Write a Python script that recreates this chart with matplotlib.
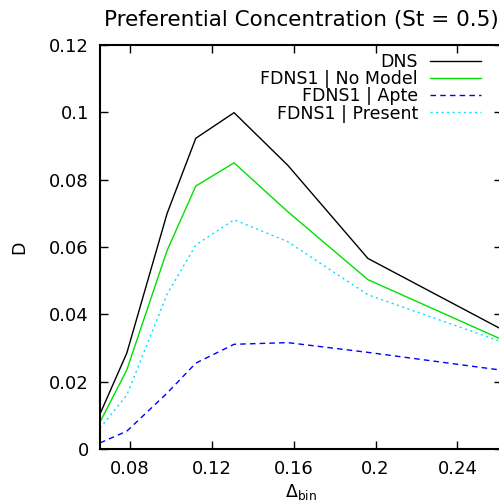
import matplotlib
matplotlib.use("Agg")
import matplotlib.pyplot as plt
from matplotlib.ticker import FormatStrFormatter

# bin size (2*pi/N for N = 96, 80, 64, 56, 48, 40, 32, 24)
delta_bin = [0.0654, 0.0785, 0.0982, 0.1122, 0.1309, 0.1571, 0.1963, 0.2618]

d_dns = [0.0104, 0.0285, 0.0700, 0.0923, 0.0999, 0.0843, 0.0566, 0.0355]
d_nomodel = [0.0080, 0.0235, 0.0590, 0.0781, 0.0850, 0.0705, 0.0503, 0.0325]
d_apte = [0.0018, 0.0053, 0.0166, 0.0255, 0.0311, 0.0316, 0.0287, 0.0234]
d_present = [0.0062, 0.0160, 0.0460, 0.0606, 0.0681, 0.0616, 0.0458, 0.0318]

xticks = [0.08, 0.12, 0.16, 0.2, 0.24]
yticks = [0, 0.02, 0.04, 0.06, 0.08, 0.1, 0.12]

fig = plt.figure(figsize=(4.99, 5.04), dpi=100)
ax = fig.add_axes([100 / 499, 55 / 504, 402 / 499, 404 / 504])

ax.plot(delta_bin, d_dns, color='black', lw=1.0, label='DNS')
ax.plot(delta_bin, d_nomodel, color='#00e000', lw=1.0, label='FDNS1 | No Model')
ax.plot(delta_bin, d_apte, color='#0000ff', lw=1.0, ls=(0, (4, 3)), label='FDNS1 | Apte')
ax.plot(delta_bin, d_present, color='#00e0ff', lw=1.0, ls=(0, (1.5, 2.5)), label='FDNS1 | Present')

ax.set_xlim(delta_bin[0], delta_bin[-1])
ax.set_ylim(0, 0.12)
ax.set_xticks(xticks)
ax.set_yticks(yticks)
ax.xaxis.set_major_formatter(FormatStrFormatter('%g'))
ax.yaxis.set_major_formatter(FormatStrFormatter('%g'))
ax.tick_params(direction='in', length=6, width=1, top=True, right=True,
               labelsize=13, pad=8)
for s in ax.spines.values():
    s.set_linewidth(1.5)

ax.set_title('Preferential Concentration (St = 0.5)', fontsize=15.5, pad=14)
ax.set_ylabel('D', fontsize=12.5, labelpad=15)
ax.set_xlabel(r'$\Delta_{\mathrm{bin}}$', fontsize=12.5, labelpad=3)

ax.legend(loc='upper right', bbox_to_anchor=(0.964, 0.997), frameon=False,
          markerfirst=False, fontsize=12.5, handlelength=2.9, handletextpad=0.7,
          labelspacing=-0.05, borderaxespad=0.0)

fig.savefig('out.png', dpi=100)
